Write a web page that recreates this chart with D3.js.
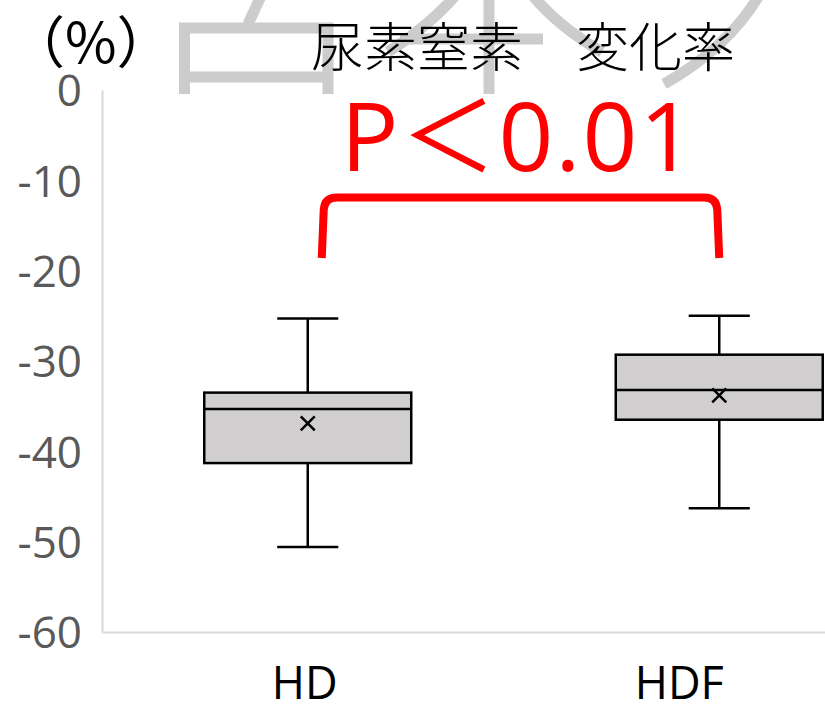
<!DOCTYPE html>
<html>
<head>
<meta charset="utf-8">
<script src="https://cdn.jsdelivr.net/npm/d3@7"></script>
<style>
  body { margin: 0; background: #ffffff; }
  svg { display: block; }
</style>
</head>
<body>
<svg id="chart" width="825" height="707"></svg>
<script>
// Box-plot statistics, in %
const categories = ["HD", "HDF"];
const whiskerHigh = [-25.3, -25.0];
const q3 = [-33.5, -29.3];
const medians = [-35.3, -33.2];
const q1 = [-41.3, -36.5];
const whiskerLow = [-50.6, -46.3];
const means = [-36.9, -33.8];
const yTicks = [0, -10, -20, -30, -40, -50, -60];

const titleText = "尿素窒素　変化率";
const unitText = "（%）";
const pText = "P＜0.01";

const svg = d3.select("#chart");

const y = d3.scaleLinear().domain([0, -60]).range([90, 632]);
const x = d3.scaleBand().domain(categories).range([102, 925]).paddingInner(0).paddingOuter(0);
const bw = x.bandwidth();
const cx = c => x(c) + bw / 2;

// faint decorative strokes behind the heading
const deco = svg.append("g")
  .attr("fill", "none")
  .attr("stroke", "#cccccc")
  .attr("stroke-width", 11);
[
  "M184.5,23 V94",
  "M328,23 V94",
  "M179,28 H333",
  "M179,77 H333",
  "M248,24 L261,-4",
  "M455,-4 Q430,25 388,52",
  "M400,39 H543",
  "M489,-4 V94",
  "M533,-4 Q560,28 602,52",
  "M760,-6 Q728,48 664,84"
].forEach(d => deco.append("path").attr("d", d));

// axes
const yAxis = svg.append("g")
  .attr("transform", "translate(102,0)")
  .call(d3.axisLeft(y).tickValues(yTicks).tickFormat(d => String(d))
    .tickSize(0).tickSizeOuter(0).tickPadding(20));
yAxis.select(".domain").attr("stroke", "#d9d9d9").attr("stroke-width", 2);
yAxis.selectAll("text")
  .attr("font-family", "'Open Sans', sans-serif")
  .attr("font-size", 44)
  .attr("fill", "#595959")
  .attr("dy", "0.36em");

const xAxis = svg.append("g")
  .attr("transform", "translate(0,632)")
  .call(d3.axisBottom(x).tickSize(0).tickSizeOuter(0).tickFormat(""));
xAxis.select(".domain").attr("stroke", "#d9d9d9").attr("stroke-width", 2);

// category labels
const labelShift = { HD: -3, HDF: -40 };
svg.append("g").selectAll("text")
  .data(categories)
  .join("text")
  .attr("x", d => cx(d) + labelShift[d])
  .attr("y", 699)
  .attr("text-anchor", "middle")
  .attr("font-family", "'Open Sans', sans-serif")
  .attr("font-size", 45)
  .attr("fill", "#000000")
  .text(d => d);

// boxes
const boxW = bw * 0.503;
const capW = boxW * 0.295;
const stats = categories.map((c, i) => ({
  c, hi: whiskerHigh[i], q3: q3[i], med: medians[i], q1: q1[i], lo: whiskerLow[i], mean: means[i]
}));
const boxes = svg.append("g").selectAll("g")
  .data(stats)
  .join("g")
  .attr("stroke", "#000000")
  .attr("stroke-width", 2.5);

boxes.append("line")
  .attr("x1", d => cx(d.c)).attr("x2", d => cx(d.c))
  .attr("y1", d => y(d.hi)).attr("y2", d => y(d.q3));
boxes.append("line")
  .attr("x1", d => cx(d.c)).attr("x2", d => cx(d.c))
  .attr("y1", d => y(d.q1)).attr("y2", d => y(d.lo));
boxes.append("line")
  .attr("x1", d => cx(d.c) - capW / 2).attr("x2", d => cx(d.c) + capW / 2)
  .attr("y1", d => y(d.hi)).attr("y2", d => y(d.hi));
boxes.append("line")
  .attr("x1", d => cx(d.c) - capW / 2).attr("x2", d => cx(d.c) + capW / 2)
  .attr("y1", d => y(d.lo)).attr("y2", d => y(d.lo));
boxes.append("rect")
  .attr("x", d => cx(d.c) - boxW / 2)
  .attr("width", boxW)
  .attr("y", d => y(d.q3))
  .attr("height", d => y(d.q1) - y(d.q3))
  .attr("fill", "#d0cece");
boxes.append("line")
  .attr("x1", d => cx(d.c) - boxW / 2).attr("x2", d => cx(d.c) + boxW / 2)
  .attr("y1", d => y(d.med)).attr("y2", d => y(d.med));
const m = 7;
boxes.append("path")
  .attr("d", d => {
    const px = cx(d.c), py = y(d.mean);
    return `M${px - m},${py - m}L${px + m},${py + m}M${px - m},${py + m}L${px + m},${py - m}`;
  });

// heading and unit
svg.append("text")
  .attr("x", 523).attr("y", 67)
  .attr("text-anchor", "middle")
  .attr("font-family", "'Noto Sans CJK JP', sans-serif")
  .attr("font-weight", 300)
  .attr("font-size", 53)
  .attr("fill", "#000000")
  .text(titleText);

svg.append("text")
  .attr("x", 9).attr("y", 63)
  .attr("font-family", "'Noto Sans CJK JP', sans-serif")
  .attr("font-weight", 400)
  .attr("font-size", 56)
  .attr("fill", "#000000")
  .text(unitText);

// significance bracket
const bx1 = cx("HD") + 14, bx2 = cx("HDF");
const byLow = y(-18.6), byTop = y(-11.9);
const r = 12;
svg.append("path")
  .attr("d", `M${bx1},${byLow} L${bx1 + 2},${byTop + r} Q${bx1 + 3},${byTop} ${bx1 + r + 3},${byTop} L${bx2 - r - 3},${byTop} Q${bx2 - 3},${byTop} ${bx2 - 2},${byTop + r} L${bx2},${byLow}`)
  .attr("fill", "none")
  .attr("stroke", "#ff0000")
  .attr("stroke-width", 8);

svg.append("text")
  .attr("x", (bx1 + bx2) / 2 - 2)
  .attr("y", byTop - 26)
  .attr("text-anchor", "middle")
  .attr("font-family", "'Open Sans', 'Noto Sans CJK JP', sans-serif")
  .attr("font-size", 96)
  .attr("letter-spacing", 2)
  .attr("fill", "#ff0000")
  .text(pText);
</script>
</body>
</html>
